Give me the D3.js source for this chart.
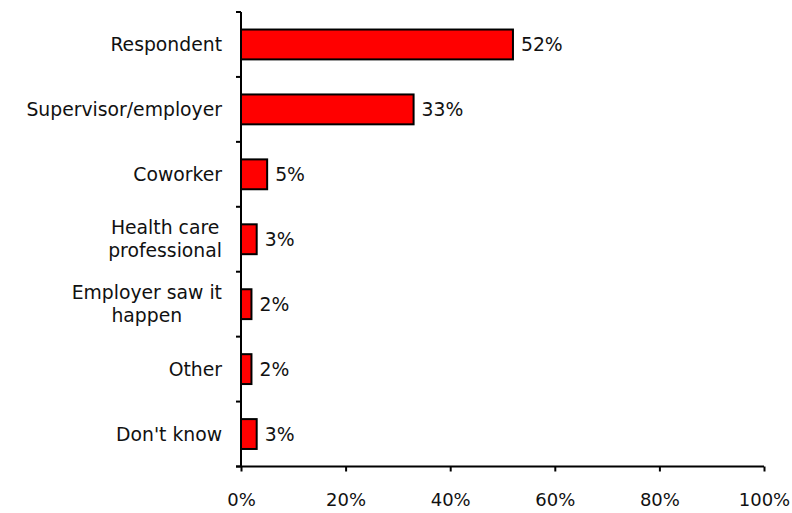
<!DOCTYPE html>
<html>
<head>
<meta charset="utf-8">
<script src="https://cdn.jsdelivr.net/npm/d3@7"></script>
<style>
  html, body { margin: 0; padding: 0; background: #fff; }
  svg { display: block; }
  text { font-family: "DejaVu Sans", Verdana, sans-serif; fill: #111; }
</style>
</head>
<body>
<svg id="chart" width="792" height="513"></svg>
<script>
const categories = [
  ["Respondent"],
  ["Supervisor/employer"],
  ["Coworker"],
  ["Health care", "professional"],
  ["Employer saw it", "happen"],
  ["Other"],
  ["Don't know"]
];
const values = [52, 33, 5, 3, 2, 2, 3];
const xTicks = [0, 20, 40, 60, 80, 100];

(function () {
const svg = d3.select("#chart");
const mLeft = 241, mRight = 764, mTop = 12, mBottom = 466.5;
const fontSize = 18.8;

const keys = categories.map((c, i) => i);
const y = d3.scaleBand().domain(keys).range([mTop, mBottom]).paddingInner(0.54).paddingOuter(0.27);
const yOuter = d3.scaleBand().domain(keys).range([mTop, mBottom]);
const x = d3.scaleLinear().domain([0, 100]).range([mLeft, mRight]);

// bars
svg.append("g").selectAll("rect").data(values).join("rect")
  .attr("x", x(0))
  .attr("y", (d, i) => y(i))
  .attr("width", d => x(d) - x(0))
  .attr("height", y.bandwidth())
  .attr("fill", "#ff0000")
  .attr("stroke", "#000")
  .attr("stroke-width", 2);

// value labels
svg.append("g").selectAll("text").data(values).join("text")
  .attr("x", d => x(d) + 8)
  .attr("y", (d, i) => yOuter(i) + yOuter.bandwidth() / 2)
  .attr("dy", "0.35em")
  .style("font-size", fontSize + "px")
  .text(d => d + "%");

// y axis line and ticks
const yAxisG = svg.append("g");
yAxisG.append("line")
  .attr("x1", mLeft).attr("x2", mLeft)
  .attr("y1", mTop).attr("y2", mBottom)
  .attr("stroke", "#000").attr("stroke-width", 2);
const boundaries = keys.map(k => yOuter(k)).concat([mBottom]);
yAxisG.selectAll("line.tick").data(boundaries).join("line")
  .attr("class", "tick")
  .attr("x1", mLeft - 5).attr("x2", mLeft)
  .attr("y1", d => d).attr("y2", d => d)
  .attr("stroke", "#000").attr("stroke-width", 2);

// category labels (multi-line blocks centred, block right-aligned)
const lineH = 23;
const labelRight = mLeft - 19;
const catG = svg.append("g").selectAll("text").data(categories).join("text")
  .attr("text-anchor", "middle")
  .style("font-size", fontSize + "px");
catG.selectAll("tspan").data(d => d.map((t, j) => ({t, j, n: d.length}))).join("tspan")
  .attr("x", 0)
  .attr("y", d => (d.j - (d.n - 1) / 2) * lineH)
  .attr("dy", "0.35em")
  .text(d => d.t);
catG.each(function (d, i) {
  let w = 0;
  d3.select(this).selectAll("tspan").each(function () {
    w = Math.max(w, this.getComputedTextLength());
  });
  d3.select(this).attr("transform",
    `translate(${labelRight - w / 2},${yOuter(i) + yOuter.bandwidth() / 2})`);
});

// x axis
const xAxis = d3.axisBottom(x).tickValues(xTicks).tickFormat(d => d + "%").tickSize(5).tickPadding(22);
const xg = svg.append("g").attr("transform", `translate(0,${mBottom})`).call(xAxis);
xg.select(".domain").attr("stroke", "#000").attr("stroke-width", 2)
  .attr("d", `M${mLeft - 5},0H${mRight}`);
xg.selectAll(".tick line").attr("stroke", "#000").attr("stroke-width", 2);
xg.selectAll(".tick text").style("font-size", "18px")
  .style("font-family", '"DejaVu Sans", Verdana, sans-serif').attr("fill", "#111");
})();
</script>
</body>
</html>
